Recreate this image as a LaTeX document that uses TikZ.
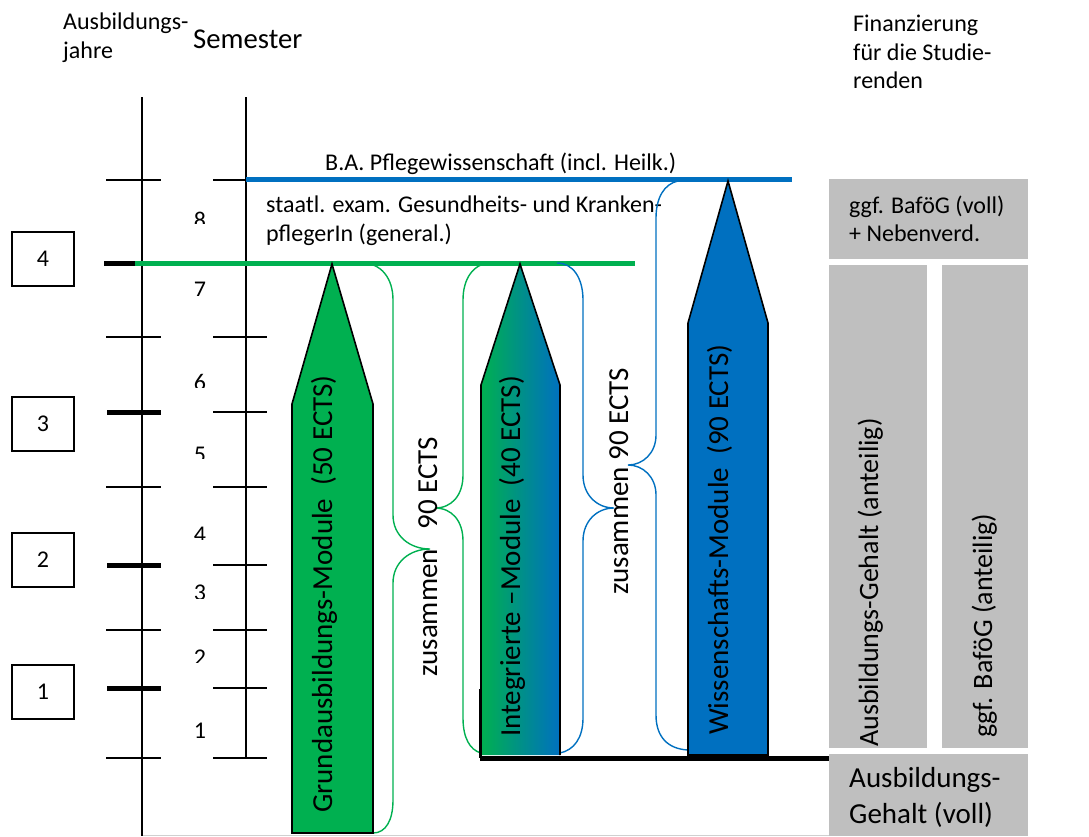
\documentclass[tikz,border=0pt]{standalone}
\usepackage{fontspec}
\setmainfont{Carlito}

\definecolor{pgreen}{HTML}{00B050}
\definecolor{pblue}{HTML}{0070C0}
\definecolor{pteal}{HTML}{00A08C}
\definecolor{fgray}{HTML}{BFBFBF}
\definecolor{framegray}{HTML}{D0D0D0}

\tikzset{
  txt/.style={inner sep=0pt, anchor=base west, font=\fontsize{24}{29}\selectfont},
  bigtxt/.style={inner sep=0pt, anchor=base west, font=\fontsize{29}{35}\selectfont},
  vtxt/.style={inner sep=0pt, anchor=base west, rotate=90, font=\fontsize{29}{35}\selectfont},
  vgtxt/.style={inner sep=0pt, anchor=base west, rotate=90, font=\fontsize{28}{34}\selectfont},
  axis/.style={line width=1.8pt, black},
  thintick/.style={line width=1.7pt, black},
  thicktick/.style={line width=5pt, black},
  yearbox/.style={draw, line width=1.3pt, minimum width=62pt, minimum height=54pt,
                  inner sep=0pt, font=\fontsize{24}{29}\selectfont},
  modarrow/.style={draw=black, line width=1.6pt, line join=miter},
  gbrace/.style={draw=pgreen, line width=1.4pt},
  bbrace/.style={draw=pblue, line width=1.4pt},
  finbox/.style={fill=fgray, draw=none},
}

\newcommand{\semnum}[3]{% digit, top of glyph, lower clip edge
  \begin{scope}
    \clip (180,#2-8) rectangle (222,#3);
    \node[inner sep=0pt, anchor=base, font=\fontsize{24}{29}\selectfont] (sem#1) at (200,#2+15.2) {#1};
  \end{scope}}

\begin{document}
\begin{tikzpicture}[x=1pt,y=-1pt]
\useasboundingbox (0,0) rectangle (1089,836);

% headings
\node[txt] (hy1) at (63,29) {Ausbildungs-};
\node[txt] (hy2) at (63,58) {jahre};
\node[inner sep=0pt, anchor=base west, font=\fontsize{28.7}{34}\selectfont] (hsem) at (193,48) {Semester};
\node[txt] (hf1) at (853,31) {Finanzierung};
\node[txt] (hf2) at (853,60) {für die Studie-};
\node[txt] (hf3) at (853,88) {renden};

% page frame at the bottom
\draw[framegray, line width=1pt] (142,835.3) -- (829,835.3);

% year axis
\draw[axis] (142,97) -- (142,836);
% semester axis
\draw[axis] (246,97) -- (246,758);

% thin ticks on both axes
\foreach \y in {180,337,487,630,758}{
  \draw[thintick] (106,\y) -- (161,\y);
}
\foreach \y in {337,412,487,565,630,688,758}{
  \draw[thintick] (213,\y) -- (267,\y);
}
\draw[thintick] (213,180) -- (246,180);
% thick year ticks
\foreach \y in {412,565,688}{
  \draw[thicktick] (107,\y) -- (161,\y);
}
\draw[thicktick] (104,263) -- (136,263);

% year boxes
\node[yearbox] (y4) at (43,259) {4};
\node[yearbox] (y3) at (43,424) {3};
\node[yearbox] (y2) at (43,560) {2};
\node[yearbox] (y1) at (43,692) {1};

% semester numbers (cut by their text frames)
\semnum{8}{213}{223}
\semnum{7}{282}{295}
\semnum{6}{375}{387}
\semnum{5}{447}{458}
\semnum{4}{527}{539}
\semnum{3}{585}{598}
\semnum{2}{650}{662}
\semnum{1}{723}{737}

% degree lines
\draw[pblue, line width=5pt] (246,179.5) -- (792,179.5);
\draw[pgreen, line width=5pt] (135,263) -- (635,263);
\node[txt] (ba) at (325,170) {B.A. Pflegewissenschaft (incl. Heilk.)};
\node[txt] (ex1) at (266,212) {staatl. exam. Gesundheits- und Kranken-};
\node[txt] (ex2) at (266,241) {pflegerIn (general.)};

% braces
\draw[gbrace] (362,263) .. controls (381,263) and (393,278) .. (393,300)
  -- (393,515) .. controls (393,536) and (410,549) .. (430,549)
  .. controls (410,549) and (393,562) .. (393,583)
  -- (393,800) .. controls (393,820) and (386,833) .. (373,833);
\draw[gbrace] (491,263) .. controls (474,263) and (463,278) .. (463,300)
  -- (463,475) .. controls (463,495) and (452,508) .. (435,508)
  .. controls (452,508) and (463,521) .. (463,541)
  -- (463,718) .. controls (463,738) and (470,750) .. (481,753);
\draw[bbrace] (557,263) .. controls (573,263) and (583,278) .. (583,300)
  -- (583,475) .. controls (583,495) and (597,508) .. (614,508)
  .. controls (597,508) and (583,521) .. (583,541)
  -- (583,718) .. controls (583,738) and (574,750) .. (560,753);
\draw[bbrace] (678,181) .. controls (664,184) and (656,198) .. (656,218)
  -- (656,435) .. controls (656,453) and (643,465) .. (628,465)
  .. controls (643,465) and (656,477) .. (656,495)
  -- (656,715) .. controls (656,737) and (668,749) .. (688,750);

% module arrows
\filldraw[modarrow, fill=pgreen] (292,833) -- (292,404) -- (332,264) -- (373,404) -- (373,833) -- cycle;
\shade[left color=pgreen, middle color=pteal, right color=pblue]
  (481,755) -- (481,385) -- (520,264) -- (560,385) -- (560,755) -- cycle;
\draw[modarrow] (481,755) -- (481,385) -- (520,264) -- (560,385) -- (560,755);
\draw[line width=2.6pt] (480.5,689) -- (480.5,758);
\filldraw[modarrow, fill=pblue] (688,755) -- (688,323) -- (728,181) -- (768,323) -- (768,755) -- cycle;
\draw[line width=5pt] (480,758) -- (833,758);

% module labels
\node[vtxt] (mg) at (332,813) {Grundausbildungs-Module\ \ (50 ECTS)};
\node[vtxt] (mi) at (520,737) {Integrierte –Module\ \ (40 ECTS)};
\node[vtxt] (mw) at (728,735) {Wissenschafts-Module\ \ (90 ECTS)};
\node[vtxt] (zg) at (437,677) {zusammen\ \ \ 90 ECTS};
\node[vtxt] (zb) at (628,595) {zusammen 90 ECTS};

% financing
\fill[finbox] (829,179) rectangle (1028,259);
\fill[finbox] (829,265) rectangle (927,748);
\fill[finbox] (942,265) rectangle (1028,748);
\fill[finbox] (829,754) rectangle (1028,836);
\node[txt] (fb1) at (849,213) {ggf. BaföG (voll)};
\node[txt] (fb2) at (849,241) {+ Nebenverd.};
\node[vgtxt] (fa) at (878,747) {Ausbildungs-Gehalt (anteilig)};
\node[vgtxt] (fc) at (992,738) {ggf. BaföG (anteilig)};
\node[bigtxt] (fv1) at (849,787) {Ausbildungs-};
\node[bigtxt] (fv2) at (849,823) {Gehalt (voll)};
\end{tikzpicture}
\end{document}
